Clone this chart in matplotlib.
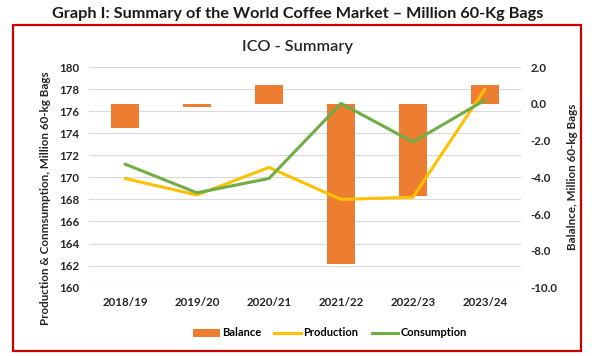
import matplotlib
matplotlib.use("Agg")
import matplotlib.pyplot as plt
from matplotlib.patches import Rectangle, Patch
from matplotlib.lines import Line2D

plt.rcParams['font.family'] = ['Lato', 'DejaVu Sans']

categories = ["2018/19", "2019/20", "2020/21", "2021/22", "2022/23", "2023/24"]
production = [169.9, 168.4, 170.9, 168.0, 168.2, 178.0]
consumption = [171.2, 168.6, 169.9, 176.7, 173.2, 177.0]
balance = [-1.3, -0.2, 1.0, -8.7, -5.0, 1.0]

left_ticks = list(range(160, 181, 2))
right_ticks = [-10.0, -8.0, -6.0, -4.0, -2.0, 0.0, 2.0]

C_BAL = "#ED7D31"
C_PROD = "#FFC000"
C_CONS = "#70AD47"
C_TXT = "#262626"

fig = plt.figure(figsize=(5.96, 3.56), dpi=100)
fig.patch.set_facecolor("white")

pos = [89/596, 1-287.7/356, (521-89)/596, (287.7-67)/356]
ax = fig.add_axes(pos)
ax2 = ax.twinx()
ax3 = ax.twinx()

x = list(range(len(categories)))
FS = 8.3

# grid axis (left)
ax.set_xlim(-0.5, len(categories)-0.5)
ax.set_ylim(160, 180)
ax.set_yticks(left_ticks)
ax.set_yticklabels([str(t) for t in left_ticks])
ax.grid(axis='y', color="#D9D9D9", linewidth=0.8)
ax.set_axisbelow(True)
ax.set_xticks(x)
ax.set_xticklabels(categories)
for s in ax.spines.values():
    s.set_visible(False)
ax.tick_params(axis='both', length=0, labelsize=FS, colors=C_TXT)
ax.tick_params(axis='y', pad=7)
ax.tick_params(axis='x', pad=7)
for lab in ax.get_xticklabels() + ax.get_yticklabels():
    lab.set_fontweight('bold')
ax.set_ylabel("Production & Conmsumption, Million 60-kg Bags", fontsize=8.4,
              fontweight='bold', color=C_TXT)
ax.yaxis.set_label_coords(-0.088, 0.405)

# bars (right axis)
ax2.bar(x, balance, width=0.4, color=C_BAL, zorder=2)
ax2.set_ylim(-10, 2)
ax2.set_yticks(right_ticks)
ax2.set_yticklabels([f"{t:.1f}" for t in right_ticks])
for s in ax2.spines.values():
    s.set_visible(False)
ax2.tick_params(axis='y', length=0, labelsize=FS, colors=C_TXT, pad=7)
for lab in ax2.get_yticklabels():
    lab.set_fontweight('bold')
ax2.set_ylabel("Balalnce, Million 60-kg Bags", fontsize=8.4, fontweight='bold',
               color=C_TXT)
ax2.yaxis.set_label_coords(1.106, 0.504)

# lines (overlay on left scale)
ax3.set_ylim(160, 180)
ax3.plot(x, production, color=C_PROD, linewidth=2.2, solid_capstyle='round')
ax3.plot(x, consumption, color=C_CONS, linewidth=2.2, solid_capstyle='round')
ax3.set_yticks([])
for s in ax3.spines.values():
    s.set_visible(False)

fig.text(0.5, 1-14/356, "Graph I: Summary of the World Coffee Market \u2013 Million 60-Kg Bags",
         ha='center', va='center', fontsize=11.7, fontweight='bold', color="#1a1a1a")
fig.text(0.5, 1-47/356, "ICO - Summary", ha='center', va='center', fontsize=11.7,
         color=C_TXT, fontweight='semibold')

handles = [Patch(facecolor=C_BAL, edgecolor='none'),
           Line2D([0], [0], color=C_PROD, lw=2.2),
           Line2D([0], [0], color=C_CONS, lw=2.2)]
fig.legend(handles, ["Balance", "Production", "Consumption"], loc='center',
           bbox_to_anchor=(330/596, 1-333/356), ncol=3, frameon=False,
           handlelength=2.4, handletextpad=0.2, columnspacing=1.2,
           prop={'weight': 'bold', 'size': 8})

rect = Rectangle((13/596, 1-351/356), (581-13)/596, (351-25)/356,
                 transform=fig.transFigure, fill=False, edgecolor="#D00000",
                 linewidth=1.6)
fig.patches.append(rect)

fig.savefig("out.png", dpi=100)
